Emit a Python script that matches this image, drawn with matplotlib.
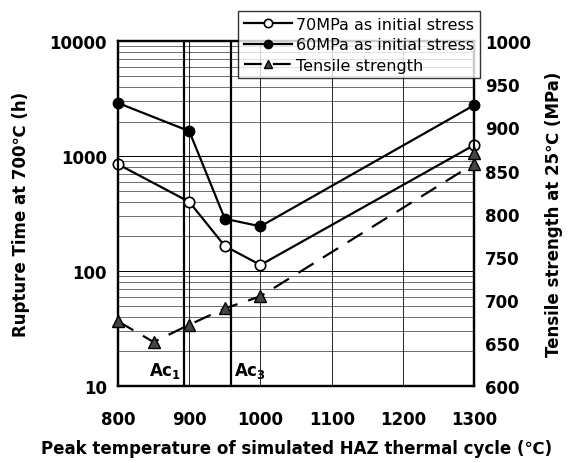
import numpy as np
import matplotlib.pyplot as plt
from matplotlib.ticker import LogLocator, FixedLocator, NullFormatter

# data
temp = [800, 900, 950, 1000, 1300]
rupture_70 = [850, 400, 165, 113, 1250]
rupture_60 = [2900, 1650, 285, 245, 2780]

temp_ts = [800, 850, 900, 950, 1000, 1300]
tensile = [675, 651, 671, 690, 704, 858]
temp_ts_extra = [1300]
tensile_extra = [870]

ac1 = 893
ac3 = 958

plt.rcParams['font.family'] = ['DejaVu Sans']
plt.rcParams['font.weight'] = 'bold'

fig = plt.figure(figsize=(5.7, 4.64), dpi=100)
ax = fig.add_axes([0.207, 0.166, 0.625, 0.743])
ax2 = ax.twinx()

ax.set_yscale('log')
ax.set_xlim(800, 1300)
ax.set_ylim(10, 10000)
ax2.set_ylim(600, 1000)

ax.xaxis.set_major_locator(FixedLocator([800, 900, 1000, 1100, 1200, 1300]))
ax.yaxis.set_major_locator(LogLocator(base=10))
ax.yaxis.set_minor_locator(LogLocator(base=10, subs=np.arange(2, 10)))
ax.yaxis.set_minor_formatter(NullFormatter())
ax.set_yticks([10, 100, 1000, 10000])
ax.set_yticklabels(['10', '100', '1000', '10000'])
ax2.set_yticks([600, 650, 700, 750, 800, 850, 900, 950, 1000])

ax.grid(True, which='major', axis='x', color='black', lw=0.6)
ax.grid(True, which='major', axis='y', color='black', lw=0.7)
ax.grid(True, which='minor', axis='y', color='black', lw=0.4)

ax.axvline(ac1, color='black', lw=1.6)
ax.axvline(ac3, color='black', lw=1.6)
ax.text(ac1 - 5, 11.3, 'Ac$_\\mathbf{1}$', ha='right', va='bottom', fontsize=12, fontweight='bold')
ax.text(ac3 + 5, 11.3, 'Ac$_\\mathbf{3}$', ha='left', va='bottom', fontsize=12, fontweight='bold')

l1, = ax.plot(temp, rupture_70, color='black', lw=1.6, marker='o', ms=7.5,
              mfc='white', mec='black', mew=1.2, label='70MPa as initial stress', zorder=5,
              clip_on=False)
l2, = ax.plot(temp, rupture_60, color='black', lw=1.6, marker='o', ms=7.5,
              mfc='black', mec='black', label='60MPa as initial stress', zorder=5,
              clip_on=False)
l3, = ax2.plot(temp_ts, tensile, color='black', lw=1.6, ls=(0, (8, 5)), marker='^', ms=8,
               mfc='#444444', mec='black', label='Tensile strength', zorder=5,
               clip_on=False)
ax2.plot(temp_ts_extra, tensile_extra, ls='none', marker='^', ms=8,
         mfc='#444444', mec='black', zorder=5, clip_on=False)

for a in (ax, ax2):
    for s in a.spines.values():
        s.set_linewidth(1.6)
    a.tick_params(axis='both', which='both', length=0, labelsize=12, pad=8)
ax.tick_params(axis='x', pad=17)
for lab in ax.get_xticklabels() + ax.get_yticklabels() + ax2.get_yticklabels():
    lab.set_fontweight('bold')

ax.set_ylabel('Rupture Time at 700℃ (h)', fontsize=12, fontweight='bold', labelpad=14)
ax2.set_ylabel('Tensile strength at 25℃ (MPa)', fontsize=12, fontweight='bold', labelpad=10)
ax.set_xlabel('Peak temperature of simulated HAZ thermal cycle (℃)', fontsize=12,
              fontweight='bold', labelpad=8)

leg = fig.legend(handles=[l1, l2, l3], loc='upper right', bbox_to_anchor=(0.842, 0.974),
                 fontsize=11.5, frameon=True, fancybox=False, edgecolor='black',
                 handlelength=3.0, borderpad=0.35, labelspacing=0.35, handletextpad=0.3,
                 borderaxespad=0, markerscale=0.8)
leg.get_frame().set_linewidth(1.0)
leg.set_zorder(10)
for t in leg.get_texts():
    t.set_fontweight('normal')

fig.savefig('out.png', dpi=100)
